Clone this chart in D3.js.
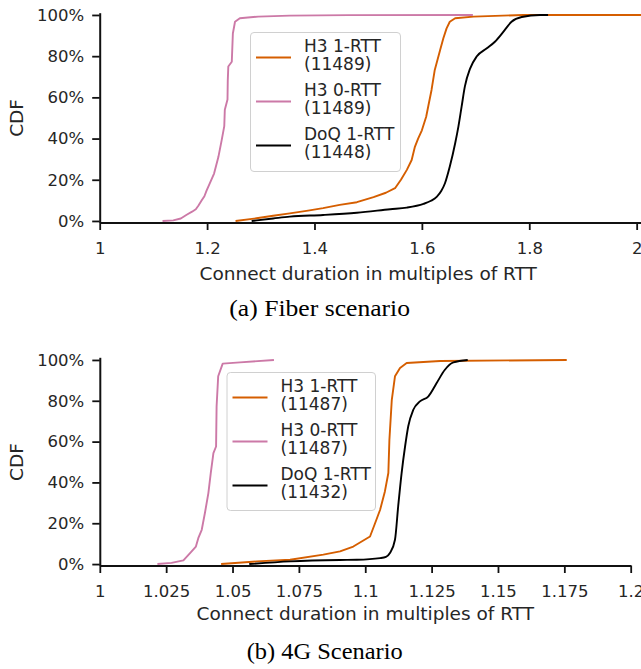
<!DOCTYPE html>
<html>
<head>
<meta charset="utf-8">
<script src="https://cdn.jsdelivr.net/npm/d3@7"></script>
<style>
  html, body { margin: 0; padding: 0; background: #fff; }
  svg { display: block; }
</style>
</head>
<body>
<svg id="fig" width="641" height="669"></svg>
<script>
// Series labels (with sample counts) for each panel
const seriesNames = ["H3 1-RTT", "H3 0-RTT", "DoQ 1-RTT"];
const fiberCounts = ["(11489)", "(11489)", "(11448)"];
const lteCounts = ["(11487)", "(11487)", "(11432)"];
const seriesColors = ["#d55e00", "#cc79a7", "#000000"];

// Tick values
const fiberXTicks = [1, 1.2, 1.4, 1.6, 1.8, 2];
const lteXTicks = [1, 1.025, 1.05, 1.075, 1.1, 1.125, 1.15, 1.175, 1.2];
const cdfTicks = [0, 0.2, 0.4, 0.6, 0.8, 1.0];

// Fiber scenario: [connect duration in RTTs, cumulative share]
const fiberH3_1rtt = [[1.253,0],[1.292,0.013],[1.323,0.025],[1.354,0.037],[1.388,0.05],[1.416,0.062],[1.447,0.078],[1.479,0.091],[1.510,0.116],[1.533,0.137],[1.550,0.159],[1.561,0.2],[1.572,0.248],[1.581,0.296],[1.587,0.36],[1.593,0.40],[1.600,0.44],[1.608,0.506],[1.612,0.558],[1.618,0.636],[1.624,0.733],[1.634,0.83],[1.640,0.887],[1.646,0.935],[1.652,0.967],[1.662,0.984],[1.696,0.992],[1.789,1.0],[2.02,1.0]];
const fiberH3_0rtt = [[1.117,0],[1.137,0.003],[1.151,0.012],[1.162,0.03],[1.172,0.045],[1.179,0.057],[1.184,0.075],[1.190,0.10],[1.195,0.12],[1.199,0.147],[1.205,0.183],[1.213,0.23],[1.221,0.31],[1.227,0.39],[1.232,0.46],[1.233,0.54],[1.238,0.59],[1.2385,0.68],[1.2395,0.75],[1.246,0.773],[1.248,0.91],[1.252,0.967],[1.261,0.984],[1.295,0.992],[1.354,0.997],[1.463,0.999],[1.695,1.0]];
const fiberDoq_1rtt = [[1.283,0],[1.323,0.012],[1.354,0.021],[1.416,0.029],[1.479,0.04],[1.541,0.057],[1.572,0.065],[1.603,0.083],[1.617,0.098],[1.628,0.118],[1.636,0.145],[1.643,0.183],[1.652,0.264],[1.662,0.377],[1.668,0.458],[1.674,0.555],[1.680,0.652],[1.690,0.741],[1.702,0.798],[1.721,0.838],[1.736,0.87],[1.752,0.919],[1.767,0.967],[1.786,0.99],[1.820,1.0],[1.835,1.0]];

// 4G scenario
const lteH3_1rtt = [[1.0457,0],[1.0591,0.013],[1.0717,0.021],[1.0842,0.046],[1.0905,0.062],[1.0955,0.086],[1.1018,0.135],[1.1037,0.2],[1.1056,0.266],[1.1074,0.356],[1.1087,0.446],[1.1091,0.609],[1.1100,0.805],[1.1112,0.92],[1.1131,0.961],[1.1156,0.985],[1.1282,0.995],[1.1759,1.0]];
const lteH3_0rtt = [[1.0217,0],[1.0270,0.006],[1.0315,0.018],[1.0340,0.054],[1.0362,0.086],[1.0371,0.127],[1.0384,0.168],[1.0396,0.25],[1.0409,0.348],[1.0418,0.446],[1.0428,0.544],[1.0438,0.576],[1.0440,0.773],[1.0446,0.92],[1.0463,0.982],[1.0528,0.988],[1.0656,1.0]];
const lteDoq_1rtt = [[1.0563,0],[1.0717,0.013],[1.0905,0.02],[1.0968,0.021],[1.1056,0.029],[1.1078,0.035],[1.1093,0.054],[1.1112,0.119],[1.1124,0.282],[1.1137,0.446],[1.1150,0.576],[1.1162,0.675],[1.1181,0.756],[1.1206,0.797],[1.1238,0.822],[1.1269,0.887],[1.1300,0.952],[1.1332,0.988],[1.1386,1.0]];

const SANS = "DejaVu Sans, sans-serif";
const SERIF = "Liberation Serif, Times New Roman, serif";
const TEXT = "#262626";

const svg = d3.select("#fig");

function panel(cfg) {
  const g = svg.append("g");
  const x = d3.scaleLinear().domain(cfg.xDomain).range(cfg.xRange);
  const y = d3.scaleLinear().domain(cfg.yDomain).range(cfg.yRange);
  const axisY = cfg.yRange[0];

  // Curves: plotted in legend order so DoQ sits on top
  const curves = [cfg.h3one, cfg.h3zero, cfg.doq];
  curves.forEach((data, i) => {
    const line = d3.line()
      .x(d => x(d[0]))
      .y(d => y(d[1]))
      .curve(i === 2 ? d3.curveMonotoneX : d3.curveLinear);
    g.append("path")
      .datum(data)
      .attr("d", line)
      .attr("fill", "none")
      .attr("stroke", seriesColors[i])
      .attr("stroke-width", 1.9)
      .attr("stroke-linejoin", "round");
  });

  // Axes
  const xAxis = d3.axisBottom(x)
    .tickValues(cfg.xTicks)
    .tickFormat(d3.format("~g"))
    .tickSizeInner(7.5).tickSizeOuter(0).tickPadding(12);
  const xg = g.append("g").attr("transform", `translate(0,${axisY})`).call(xAxis);

  const yAxis = d3.axisLeft(y)
    .tickValues(cfg.yTicks)
    .tickFormat(d => Math.round(d * 100) + "%")
    .tickSizeInner(7.5).tickSizeOuter(0).tickPadding(8);
  const yg = g.append("g").attr("transform", `translate(${cfg.xRange[0]},0)`).call(yAxis);

  [xg, yg].forEach(a => {
    a.select(".domain").attr("stroke", "#111").attr("stroke-width", 2);
    a.selectAll(".tick line").attr("stroke", "#111").attr("stroke-width", 1.8);
    a.selectAll(".tick text")
      .attr("fill", TEXT)
      .style("font-family", SANS)
      .style("font-size", "16.5px");
  });

  // Axis titles
  g.append("text")
    .attr("x", (x(cfg.xTicks[0]) + x(cfg.xTicks[cfg.xTicks.length - 1])) / 2)
    .attr("y", cfg.xLabelY)
    .attr("text-anchor", "middle")
    .attr("fill", TEXT)
    .style("font-family", SANS).style("font-size", "18.5px")
    .text("Connect duration in multiples of RTT");

  g.append("text")
    .attr("transform", `translate(23.3,${(y(0) + y(1)) / 2}) rotate(-90)`)
    .attr("text-anchor", "middle")
    .attr("fill", TEXT)
    .style("font-family", SANS).style("font-size", "18.5px")
    .text("CDF");

  // Legend
  const lg = g.append("g").attr("transform", `translate(${cfg.legend[0]},${cfg.legend[1]})`);
  lg.append("rect")
    .attr("x", 0.5).attr("y", 0.5)
    .attr("width", cfg.legend[2]).attr("height", cfg.legend[3])
    .attr("rx", 3.5)
    .attr("fill", "rgba(255,255,255,0.8)")
    .attr("stroke", "#d0d0d0").attr("stroke-width", 1);
  seriesNames.forEach((name, i) => {
    const cy = 25.5 + i * 44;
    lg.append("line")
      .attr("x1", 6).attr("x2", 41)
      .attr("y1", cy).attr("y2", cy)
      .attr("stroke", seriesColors[i]).attr("stroke-width", 1.9);
    const t = lg.append("text")
      .attr("fill", TEXT)
      .style("font-family", SANS).style("font-size", "17px");
    t.append("tspan").attr("x", 54).attr("y", cy - 6).text(name);
    t.append("tspan").attr("x", 54).attr("y", cy + 12.5).text(cfg.counts[i]);
  });

  // Caption
  g.append("text")
    .attr("x", cfg.caption[1]).attr("y", cfg.caption[2])
    .attr("text-anchor", "middle")
    .attr("fill", "#000")
    .attr("textLength", cfg.caption[3])
    .attr("lengthAdjust", "spacingAndGlyphs")
    .style("font-family", SERIF).style("font-size", "22.5px")
    .text(cfg.caption[0]);
}

panel({
  xDomain: [1, 2.02], xRange: [99.7, 647.4],
  yDomain: [-0.0075, 1.011], yRange: [222.5, 12.7],
  xTicks: fiberXTicks, yTicks: cdfTicks,
  h3one: fiberH3_1rtt, h3zero: fiberH3_0rtt, doq: fiberDoq_1rtt,
  counts: fiberCounts,
  xLabelY: 280.3,
  legend: [250, 32, 150, 139],
  caption: ["(a) Fiber scenario", 319.7, 316, 180.7]
});

panel({
  xDomain: [1, 1.2], xRange: [99.8, 630.7],
  yDomain: [-0.007, 1.013], yRange: [565.5, 357.3],
  xTicks: lteXTicks, yTicks: cdfTicks,
  h3one: lteH3_1rtt, h3zero: lteH3_0rtt, doq: lteDoq_1rtt,
  counts: lteCounts,
  xLabelY: 620.3,
  legend: [226.5, 372, 148.5, 138],
  caption: ["(b) 4G Scenario", 324.7, 658.7, 156]
});
</script>
</body>
</html>
